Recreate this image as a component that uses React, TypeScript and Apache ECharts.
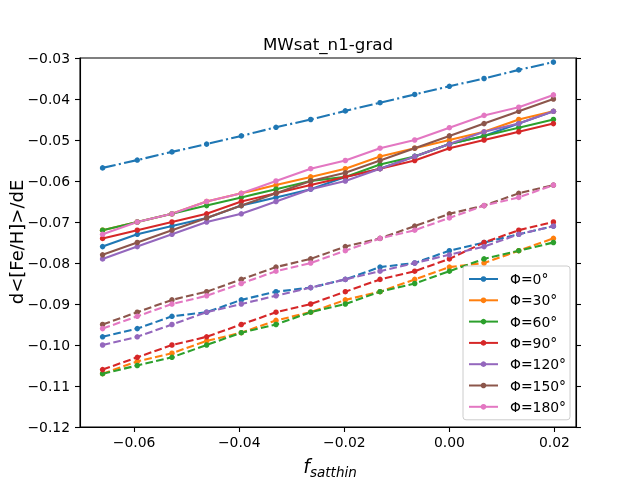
import React, { useEffect, useRef } from "react";
import * as echarts from "echarts";

const X = [-0.066, -0.0594, -0.0528, -0.0462, -0.0396, -0.033, -0.0264, -0.0198, -0.0132, -0.0066, 0, 0.0066, 0.0132, 0.0198];

const NAMES = ["Φ=0°", "Φ=30°", "Φ=60°", "Φ=90°", "Φ=120°", "Φ=150°", "Φ=180°"];
const COLORS = ["#1f77b4", "#ff7f0e", "#2ca02c", "#d62728", "#9467bd", "#8c564b", "#e377c2"];

// solid lines
const SOLID_0 = [-0.076, -0.073, -0.071, -0.069, -0.066, -0.064, -0.062, -0.059, -0.057, -0.054, -0.051, -0.049, -0.046, -0.043];
const SOLID_30 = [-0.072, -0.070, -0.068, -0.065, -0.063, -0.061, -0.059, -0.057, -0.054, -0.052, -0.050, -0.048, -0.045, -0.043];
const SOLID_60 = [-0.072, -0.070, -0.068, -0.066, -0.064, -0.062, -0.060, -0.059, -0.056, -0.054, -0.051, -0.049, -0.047, -0.045];
const SOLID_90 = [-0.074, -0.072, -0.070, -0.068, -0.065, -0.063, -0.061, -0.059, -0.057, -0.055, -0.052, -0.050, -0.048, -0.046];
const SOLID_120 = [-0.079, -0.076, -0.073, -0.070, -0.068, -0.065, -0.062, -0.060, -0.057, -0.054, -0.051, -0.048, -0.046, -0.043];
const SOLID_150 = [-0.078, -0.075, -0.072, -0.069, -0.066, -0.063, -0.060, -0.058, -0.055, -0.052, -0.049, -0.046, -0.043, -0.040];
const SOLID_180 = [-0.073, -0.070, -0.068, -0.065, -0.063, -0.060, -0.057, -0.055, -0.052, -0.050, -0.047, -0.044, -0.042, -0.039];

// dashed lines
const DASH_0 = [-0.098, -0.096, -0.093, -0.092, -0.089, -0.087, -0.086, -0.084, -0.081, -0.080, -0.077, -0.075, -0.073, -0.071];
const DASH_30 = [-0.107, -0.104, -0.102, -0.099, -0.097, -0.094, -0.092, -0.089, -0.087, -0.084, -0.081, -0.080, -0.077, -0.074];
const DASH_60 = [-0.107, -0.105, -0.103, -0.100, -0.097, -0.095, -0.092, -0.090, -0.087, -0.085, -0.082, -0.079, -0.077, -0.075];
const DASH_90 = [-0.106, -0.103, -0.100, -0.098, -0.095, -0.092, -0.090, -0.087, -0.084, -0.082, -0.079, -0.075, -0.072, -0.070];
const DASH_120 = [-0.100, -0.098, -0.095, -0.092, -0.090, -0.088, -0.086, -0.084, -0.082, -0.080, -0.078, -0.076, -0.073, -0.071];
const DASH_150 = [-0.095, -0.092, -0.089, -0.087, -0.084, -0.081, -0.079, -0.076, -0.074, -0.071, -0.068, -0.066, -0.063, -0.061];
const DASH_180 = [-0.096, -0.093, -0.090, -0.088, -0.085, -0.082, -0.080, -0.077, -0.074, -0.072, -0.069, -0.066, -0.064, -0.061];

// dash-dot line (blue)
const DASHDOT_0 = [-0.0568, -0.0549, -0.0529, -0.051, -0.049, -0.0469, -0.045, -0.0429, -0.0409, -0.0389, -0.0369, -0.035, -0.0329, -0.031];

const X_TICKS = [-0.06, -0.04, -0.02, 0, 0.02];
const TITLE = "MWsat_n1-grad";
const Y_LABEL = "d<[Fe/H]>/dE";

const SOLIDS = [SOLID_0, SOLID_30, SOLID_60, SOLID_90, SOLID_120, SOLID_150, SOLID_180];
const DASHES = [DASH_0, DASH_30, DASH_60, DASH_90, DASH_120, DASH_150, DASH_180];

const FONT = "DejaVu Sans";
const fmt = (v: number) => v.toFixed(2).replace("-", "\u2212");

export default function App() {
  const ref = useRef<HTMLDivElement>(null);
  useEffect(() => {
    if (!ref.current) return;
    const chart = echarts.init(ref.current, undefined, { renderer: "svg" });
    const pts = (vals: number[]) => X.map((x, i) => [x, vals[i]]);
    const series: any[] = [];
    SOLIDS.forEach((vals, k) => {
      series.push({
        name: NAMES[k],
        type: "line",
        data: pts(vals),
        symbol: "circle",
        symbolSize: 5.5,
        color: COLORS[k],
        lineStyle: { width: 2.1, color: COLORS[k] },
        itemStyle: { color: COLORS[k] },
      });
    });
    DASHES.forEach((vals, k) => {
      series.push({
        name: NAMES[k] + " dashed",
        type: "line",
        data: pts(vals),
        symbol: "circle",
        symbolSize: 5.5,
        color: COLORS[k],
        lineStyle: { width: 2.1, color: COLORS[k], type: [7.7, 3.3] },
        itemStyle: { color: COLORS[k] },
      });
    });
    series.push({
      name: "dashdot",
      type: "line",
      data: pts(DASHDOT_0),
      symbol: "circle",
      symbolSize: 5.5,
      color: COLORS[0],
      lineStyle: { width: 2.1, color: COLORS[0], type: [13.3, 3.3, 2.1, 3.3] },
      itemStyle: { color: COLORS[0] },
    });

    chart.setOption({
      animation: false,
      textStyle: { fontFamily: FONT },
      grid: { left: 80, right: 64, top: 58, bottom: 53, show: true, borderColor: "#000", borderWidth: 1.1, backgroundColor: "transparent" },
      xAxis: {
        type: "value",
        min: -0.0703,
        max: 0.0241,
        splitLine: { show: false },
        axisLine: { show: true, onZero: false, lineStyle: { color: "#000", width: 1.1 } },
        axisTick: { show: true, length: 5, customValues: X_TICKS, lineStyle: { color: "#000", width: 1.1 } },
        axisLabel: { customValues: X_TICKS, formatter: fmt, color: "#000", fontSize: 13.9, margin: 8, fontFamily: FONT },
      },
      yAxis: [
        {
          type: "value",
          min: -0.12,
          max: -0.03,
          interval: 0.01,
          splitLine: { show: false },
          axisLine: { show: true, onZero: false, lineStyle: { color: "#000", width: 1.1 } },
          axisTick: { show: true, length: 5, lineStyle: { color: "#000", width: 1.1 } },
          axisLabel: { formatter: fmt, color: "#000", fontSize: 13.9, margin: 10, fontFamily: FONT },
        },
        {
          type: "value",
          position: "right",
          min: -0.12,
          max: -0.03,
          interval: 0.01,
          splitLine: { show: false },
          axisLine: { show: true, onZero: false, lineStyle: { color: "#000", width: 1.1 } },
          axisTick: { show: true, length: 5, lineStyle: { color: "#000", width: 1.1 } },
          axisLabel: { show: false },
        },
      ],
      legend: {
        data: NAMES,
        orient: "vertical",
        left: 463,
        top: 266,
        itemWidth: 29,
        itemHeight: 7,
        itemGap: 7.3,
        padding: [6, 4, 6, 5],
        backgroundColor: "rgba(255,255,255,0.8)",
        borderColor: "#cccccc",
        borderWidth: 1,
        borderRadius: 3,
        textStyle: { fontSize: 13.9, color: "#000", fontFamily: FONT, lineHeight: 14, padding: [0, 0, 0, 7] },
      },
      graphic: [
        {
          type: "text",
          x: 328,
          y: 44,
          style: { text: TITLE, fontSize: 16.7, fontFamily: FONT, fill: "#000", textAlign: "center", textVerticalAlign: "middle" },
        },
        {
          type: "text",
          x: 16,
          y: 242,
          rotation: Math.PI / 2,
          style: { text: Y_LABEL, fontSize: 18, fontFamily: FONT, fill: "#000", textAlign: "center", textVerticalAlign: "middle" },
        },
        {
          type: "text",
          x: 310,
          y: 466,
          style: { text: "f", fontSize: 19, fontStyle: "italic", fontFamily: FONT, fill: "#000", textAlign: "right", textVerticalAlign: "middle" },
        },
        {
          type: "text",
          x: 310,
          y: 472,
          style: { text: "satthin", fontSize: 13.5, fontStyle: "italic", fontFamily: FONT, fill: "#000", textAlign: "left", textVerticalAlign: "middle" },
        },
      ],
      series,
    });
    return () => chart.dispose();
  }, []);
  return <div ref={ref} style={{ position: "fixed", left: 0, top: 0, width: 640, height: 480 }} />;
}
